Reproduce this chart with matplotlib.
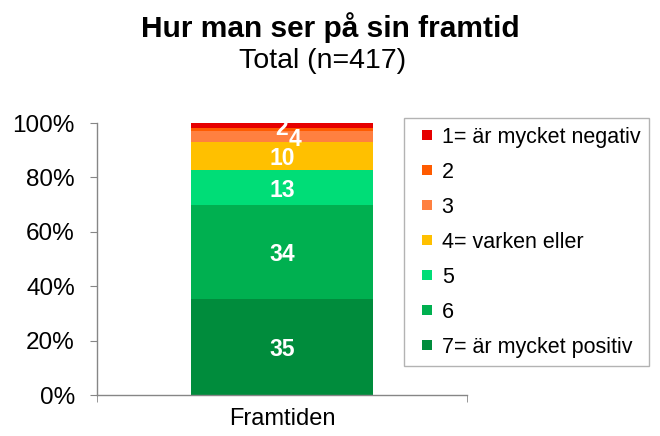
import numpy as np
import matplotlib
matplotlib.use('Agg')
import matplotlib.pyplot as plt
from matplotlib.lines import Line2D
from matplotlib.ticker import FuncFormatter

plt.rcParams['font.family'] = ['Liberation Sans', 'DejaVu Sans']

# Svarsalternativ, från 1 (mycket negativ) till 7 (mycket positiv)
answers = ['1= är mycket negativ', '2', '3', '4= varken eller', '5', '6', '7= är mycket positiv']
shares = [2, 1, 4, 10, 13, 34, 35]          # procent
shown = [True, False, True, True, True, True, True]   # vilka etiketter som skrivs ut
colors = ['#E60000', '#FF5B00', '#FF8040', '#FFC000', '#00DD77', '#00B050', '#008C3C']
category = 'Framtiden'

AXIS_GRAY = '#868686'

fig = plt.figure(figsize=(6.6, 4.36), dpi=100)
ax = fig.add_axes([97 / 660, 41 / 436, 370 / 660, 272 / 436])

# 100 % staplad: normera mot summan
vals = np.array(shares, dtype=float)
pct = vals / vals.sum() * 100

bottom = 0.0
# rita nerifrån och upp: 7 längst ner
for i in reversed(range(len(answers))):
    ax.bar(0, pct[i], width=0.49, bottom=bottom, color=colors[i], linewidth=0)
    if shown[i]:
        dx = 9.5 if answers[i] == '3' else 0
        ax.annotate(str(shares[i]), (0, bottom + pct[i] / 2), xytext=(dx, -2),
                    textcoords='offset points', ha='center', va='center',
                    color='white', fontsize=16.5, fontweight='bold')
    bottom += pct[i]

ax.set_xlim(-0.5, 0.5)
ax.set_ylim(0, 100)
ax.set_yticks(np.arange(0, 101, 20))
ax.yaxis.set_major_formatter(FuncFormatter(lambda v, p: f'{int(v)}%'))
ax.set_xticks([0])
ax.set_xticklabels([category])
ax.set_xticks([-0.5, 0.5], minor=True)
ax.tick_params(axis='x', which='major', length=0, labelsize=17, pad=9)
ax.tick_params(axis='x', which='minor', length=5, color=AXIS_GRAY)
ax.tick_params(axis='y', length=5, color=AXIS_GRAY, labelsize=17.5, pad=11)

for s in ['top', 'right']:
    ax.spines[s].set_visible(False)
for s in ['left', 'bottom']:
    ax.spines[s].set_color(AXIS_GRAY)
    ax.spines[s].set_linewidth(1)

fig.text(0.5, 1 - 36.7 / 436, 'Hur man ser på sin framtid', ha='center', va='baseline',
         fontsize=21.5, fontweight='bold')
fig.text(0.488, 1 - 68.3 / 436, 'Total (n=417)', ha='center', va='baseline', fontsize=20.5)

# små fyrkantiga symboler i förklaringen
markers = [Line2D([], [], linestyle='none', marker='s', markersize=6.5,
                  markerfacecolor=c, markeredgewidth=0) for c in colors]
leg = fig.legend(markers, answers,
                 loc='upper left', bbox_to_anchor=(404 / 660, 1 - 118 / 436),
                 fontsize=15.5, frameon=True, fancybox=False, handlelength=1.3,
                 handletextpad=0.05, labelspacing=0.65,
                 borderpad=0.4, borderaxespad=0)
leg.get_frame().set_edgecolor('#A0A0A0')
leg.get_frame().set_linewidth(1)

fig.savefig('out.png', dpi=100)
